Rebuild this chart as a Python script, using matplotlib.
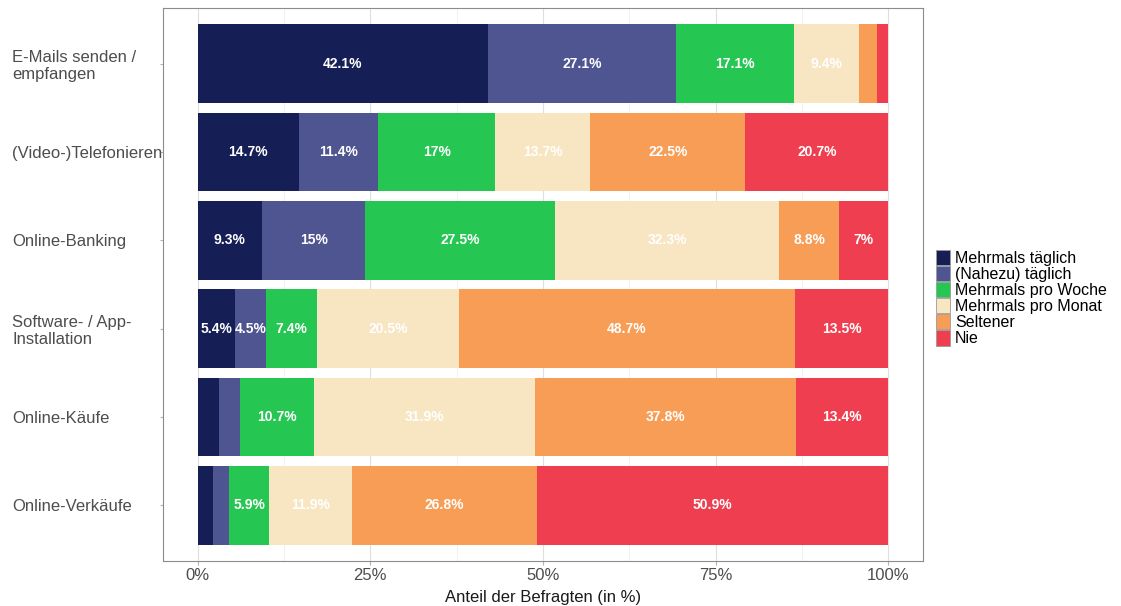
import numpy as np
import matplotlib
matplotlib.use("Agg")
import matplotlib.pyplot as plt
from matplotlib.ticker import FixedLocator

plt.rcParams['font.family'] = ['Liberation Sans', 'DejaVu Sans']

# activities, top to bottom
activities = ['E-Mails senden /\nempfangen', '(Video-)Telefonieren', 'Online-Banking',
              'Software- / App-\nInstallation', 'Online-Käufe', 'Online-Verkäufe']

categories = ['Mehrmals täglich', '(Nahezu) täglich', 'Mehrmals pro Woche',
              'Mehrmals pro Monat', 'Seltener', 'Nie']
colors = ['#151f56', '#4e5590', '#26c653', '#f8e5c2', '#f89d55', '#ee3e4f']

# share of respondents per category (in %), one list per category, rows as above
mehrmals_taeglich = [42.1, 14.7, 9.3, 5.4, 3.1, 2.2]
nahezu_taeglich = [27.1, 11.4, 15.0, 4.5, 3.1, 2.3]
pro_woche = [17.1, 17.0, 27.5, 7.4, 10.7, 5.9]
pro_monat = [9.4, 13.7, 32.3, 20.5, 31.9, 11.9]
seltener = [2.7, 22.5, 8.8, 48.7, 37.8, 26.8]
nie = [1.6, 20.7, 7.0, 13.5, 13.4, 50.9]

series = [mehrmals_taeglich, nahezu_taeglich, pro_woche, pro_monat, seltener, nie]

fig = plt.figure(figsize=(11.21, 6.06), dpi=100)
W, H = 1121, 606
ax = fig.add_axes([163 / W, 1 - 561 / H, (923 - 163) / W, (561 - 8) / H])

y = np.arange(len(activities))[::-1]
left = np.zeros(len(activities))
for vals, col, cat in zip(series, colors, categories):
    vals = np.array(vals)
    ax.barh(y, vals, left=left, height=0.89, color=col, label=cat, zorder=2)
    for yi, l, v in zip(y, left, vals):
        if v >= 4:
            txt = f'{v:g}%'
            ax.text(l + v / 2, yi, txt, ha='center', va='center', color='white',
                    fontsize=10, fontweight='bold', zorder=3)
    left += vals

ax.set_xlim(-5, 105)
ax.set_ylim(-0.63, len(activities) - 1 + 0.63)
ax.xaxis.set_major_locator(FixedLocator([0, 25, 50, 75, 100]))
ax.xaxis.set_minor_locator(FixedLocator([12.5, 37.5, 62.5, 87.5]))
ax.set_xticklabels(['0%', '25%', '50%', '75%', '100%'])
ax.set_yticks(y)
ax.set_yticklabels(activities)
for lab in ax.get_yticklabels():
    lab.set_horizontalalignment('left')
    lab.set_linespacing(1.15)

ax.grid(axis='x', which='major', color='#dedede', linewidth=0.8, zorder=0)
ax.grid(axis='x', which='minor', color='#ececec', linewidth=0.5, zorder=0)
ax.set_axisbelow(True)

ax.tick_params(axis='x', which='major', length=3, color='#b3b3b3', labelsize=12,
               labelcolor='#4d4d4d', pad=2)
ax.tick_params(axis='x', which='minor', length=0)
ax.tick_params(axis='y', length=2.5, color='#b3b3b3', labelsize=12,
               labelcolor='#4d4d4d', pad=106)
for sp in ax.spines.values():
    sp.set_color('#8c8c8c')
    sp.set_linewidth(0.8)

ax.set_xlabel('Anteil der Befragten (in %)', fontsize=12, color='#1a1a1a', labelpad=5)

leg = fig.legend(loc='center left', bbox_to_anchor=(936 / W, 1 - 298 / H), frameon=False,
                 fontsize=11.5, handlelength=0.9, handleheight=1.1, handletextpad=0.3,
                 labelspacing=0.0, borderaxespad=0, borderpad=0)
for h in leg.legend_handles:
    h.set_edgecolor('#9a9a9a')
    h.set_linewidth(0.6)

fig.savefig('out.png', dpi=100)
